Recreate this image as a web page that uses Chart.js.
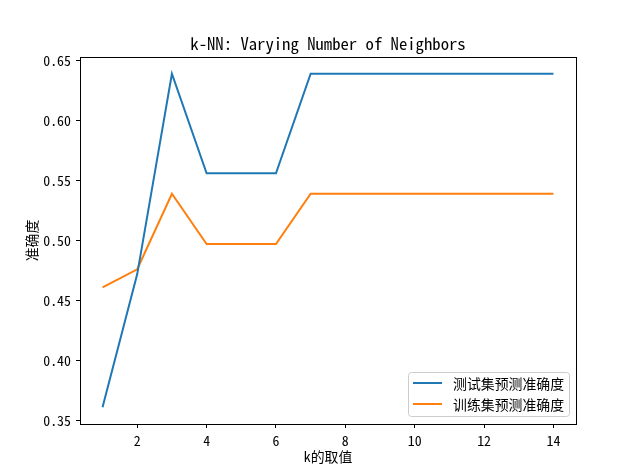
<!DOCTYPE html>
<html>
<head>
<meta charset="utf-8">
<script src="https://cdn.jsdelivr.net/npm/chart.js@4/dist/chart.umd.min.js"></script>
<style>
  html, body { margin: 0; padding: 0; background: #fff; }
  #wrap { width: 640px; height: 476px; }
</style>
</head>
<body>
<div id="wrap"><canvas id="chart" width="640" height="476"></canvas></div>
<script>
const kValues = [1, 2, 3, 4, 5, 6, 7, 8, 9, 10, 11, 12, 13, 14];
const testAcc = [0.361, 0.472, 0.639, 0.556, 0.556, 0.556, 0.639, 0.639, 0.639, 0.639, 0.639, 0.639, 0.639, 0.639];
const trainAcc = [0.461, 0.476, 0.539, 0.497, 0.497, 0.497, 0.539, 0.539, 0.539, 0.539, 0.539, 0.539, 0.539, 0.539];
const xTicks = [2, 4, 6, 8, 10, 12, 14];
const yTicks = [0.35, 0.40, 0.45, 0.50, 0.55, 0.60, 0.65];
const seriesNames = ['测试集预测准确度', '训练集预测准确度'];
const chartTitle = 'k-NN: Varying Number of Neighbors';

const LATIN = '"Noto Sans Mono CJK SC", "Noto Sans CJK SC", "Liberation Mono", monospace';
const CJK = '"Noto Sans Mono CJK SC", "Noto Sans CJK SC", sans-serif';

// spines + title centred over the plot area
const frame = {
  id: 'frame',
  afterDatasetsDraw(chart) {
    const a = chart.chartArea, ctx = chart.ctx;
    ctx.save();
    ctx.strokeStyle = '#000';
    ctx.lineWidth = 1;
    ctx.strokeRect(Math.round(a.left) + 0.5, Math.round(a.top) + 0.5,
      Math.round(a.right - a.left), Math.round(a.bottom - a.top));
    ctx.fillStyle = '#000';
    ctx.font = '16.7px ' + LATIN;
    ctx.textAlign = 'center';
    ctx.textBaseline = 'middle';
    ctx.fillText(chartTitle, (a.left + a.right) / 2, a.top - 13);
    ctx.restore();
  }
};

// matplotlib style legend in lower right
const boxLegend = {
  id: 'boxLegend',
  afterDraw(chart) {
    const a = chart.chartArea, ctx = chart.ctx;
    const w = 161, h = 44;
    const x = Math.round(a.right - 7 - w), y = Math.round(a.bottom - 8 - h);
    ctx.save();
    ctx.beginPath();
    ctx.roundRect(x + 0.5, y + 0.5, w, h, 3);
    ctx.fillStyle = 'rgba(255,255,255,0.8)';
    ctx.fill();
    ctx.strokeStyle = '#cccccc';
    ctx.lineWidth = 1;
    ctx.stroke();
    ctx.font = '13.9px ' + CJK;
    ctx.textBaseline = 'middle';
    chart.data.datasets.forEach((ds, i) => {
      const ry = y + 11 + i * 21;
      ctx.beginPath();
      ctx.moveTo(x + 5, ry);
      ctx.lineTo(x + 34, ry);
      ctx.strokeStyle = ds.borderColor;
      ctx.lineWidth = 2;
      ctx.stroke();
      ctx.fillStyle = '#000';
      ctx.fillText(ds.label, x + 45, ry + 1);
    });
    ctx.restore();
  }
};

new Chart(document.getElementById('chart'), {
  type: 'line',
  data: {
    labels: kValues,
    datasets: [
      { label: seriesNames[0], data: kValues.map((k, i) => ({ x: k, y: testAcc[i] })),
        borderColor: '#1f77b4', borderWidth: 2, pointRadius: 0, tension: 0 },
      { label: seriesNames[1], data: kValues.map((k, i) => ({ x: k, y: trainAcc[i] })),
        borderColor: '#ff7f0e', borderWidth: 2, pointRadius: 0, tension: 0 }
    ]
  },
  options: {
    responsive: false,
    animation: false,
    layout: { padding: { left: 0, right: 64, top: 57, bottom: 0 } },
    plugins: {
      legend: { display: false },
      tooltip: { enabled: false },
      title: { display: false }
    },
    scales: {
      x: {
        type: 'linear',
        min: 0.35, max: 14.65,
        afterBuildTicks: s => { s.ticks = xTicks.map(v => ({ value: v })); },
        afterFit: s => { s.height = 52; },
        grid: { drawOnChartArea: false, drawTicks: true, tickLength: 4, color: '#000' },
        border: { display: false },
        ticks: { color: '#000', padding: 4, maxRotation: 0, font: { family: LATIN, size: 13.9 } },
        title: { display: true, text: 'k的取值', color: '#000',
          font: { family: CJK, size: 13.9 }, padding: { top: 0, bottom: 10.7 } }
      },
      y: {
        min: 0.347, max: 0.653,
        afterBuildTicks: s => { s.ticks = yTicks.map(v => ({ value: v })); },
        afterFit: s => { s.width = 80; },
        grid: { drawOnChartArea: false, drawTicks: true, tickLength: 4, color: '#000' },
        border: { display: false },
        ticks: { color: '#000', padding: 5, font: { family: LATIN, size: 13.9 },
          callback: v => v.toFixed(2) },
        title: { display: true, text: '准确度', color: '#000',
          font: { family: CJK, size: 13.9 }, padding: { top: 23, bottom: 0 } }
      }
    }
  },
  plugins: [frame, boxLegend]
});
</script>
</body>
</html>
